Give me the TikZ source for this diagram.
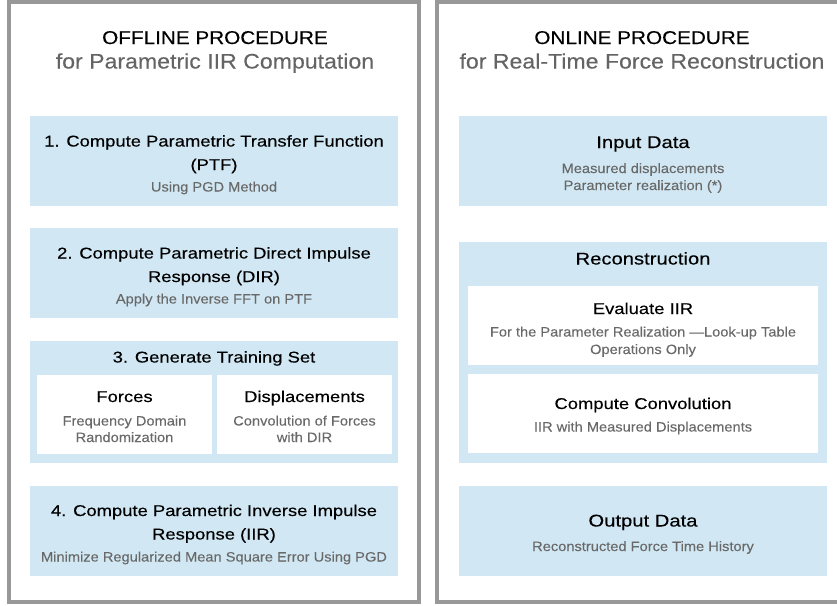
\documentclass[tikz,border=0pt]{standalone}
\usepackage{fontspec}
\setmainfont{Liberation Sans}
\newfontfamily\fttl[FakeStretch=1.12,FakeBold=0.3]{Liberation Sans}
\newfontfamily\fsub[FakeStretch=1.10,FakeBold=0.2]{Liberation Sans}
\newfontfamily\fhead[FakeStretch=1.18,FakeBold=0.3]{Liberation Sans}
\newfontfamily\fsec[FakeStretch=1.19,FakeBold=0.3]{Liberation Sans}
\newfontfamily\fsm[FakeStretch=1.085,FakeBold=0.15]{Liberation Sans}
\definecolor{frame}{RGB}{152,152,152}
\definecolor{boxblue}{RGB}{209,232,244}
\definecolor{subgray}{RGB}{105,105,105}
\definecolor{titlegray}{RGB}{100,100,100}
\tikzset{
  framebox/.style={draw=frame, line width=4pt},
  bluebox/.style={fill=boxblue, draw=none},
  whitebox/.style={fill=white, draw=none},
  txt/.style={anchor=base, inner sep=0pt},
  ttl/.style={txt, font=\fttl\fontsize{18.5}{22}\selectfont, text=black},
  sttl/.style={txt, font=\fsub\fontsize{21}{25}\selectfont, text=titlegray},
  head/.style={txt, font=\fhead\fontsize{15.6}{19}\selectfont, text=black},
  sec/.style={txt, font=\fsec\fontsize{17}{21}\selectfont, text=black},
  sm/.style={txt, font=\fsm\fontsize{13.5}{16}\selectfont, text=subgray},
}
\begin{document}
\begin{tikzpicture}[x=1pt,y=-1pt]
\useasboundingbox (0,0) rectangle (837,605);
% frames
\draw[framebox] (9,2) rectangle (419,601.5);
\draw[framebox] (437,2) rectangle (845,601.5);
% ---------- left ----------
\node[ttl]  (lt)  at (215,44)   {OFFLINE PROCEDURE};
\node[sttl] (lst) at (215,68.5) {for Parametric IIR Computation};

\fill[bluebox] (30,116) rectangle (398,206);
\node[head] (b1a) at (214,146.5) {1. Compute Parametric Transfer Function};
\node[head] (b1b) at (214,170)   {(PTF)};
\node[sm]   (b1c) at (214,191.5) {Using PGD Method};

\fill[bluebox] (30,228) rectangle (398,318);
\node[head] (b2a) at (214,258.5) {2. Compute Parametric Direct Impulse};
\node[head] (b2b) at (214,282)   {Response (DIR)};
\node[sm]   (b2c) at (214,303.5) {Apply the Inverse FFT on PTF};

\fill[bluebox] (30,341) rectangle (398,463);
\node[head] (b3a) at (214,362.5) {3. Generate Training Set};
\fill[whitebox] (37,375) rectangle (212,454);
\fill[whitebox] (217,375) rectangle (392,454);
\node[head] (fa) at (124.5,402)  {Forces};
\node[sm]   (fb) at (124.5,425.5){Frequency Domain};
\node[sm]   (fc) at (124.5,442)  {Randomization};
\node[head] (da) at (304.5,402)  {Displacements};
\node[sm]   (db) at (304.5,425.5){Convolution of Forces};
\node[sm]   (dc) at (304.5,442)  {with DIR};

\fill[bluebox] (30,486) rectangle (398,576);
\node[head] (b4a) at (214,516)   {4. Compute Parametric Inverse Impulse};
\node[head] (b4b) at (214,539.5) {Response (IIR)};
\node[sm]   (b4c) at (214,561.5) {Minimize Regularized Mean Square Error Using PGD};
% ---------- right ----------
\node[ttl]  (rt)  at (642,44)   {ONLINE PROCEDURE};
\node[sttl] (rst) at (642,68.5) {for Real-Time Force Reconstruction};

\fill[bluebox] (459,116) rectangle (827,206);
\node[sec] (ia) at (643,148) {Input Data};
\node[sm]  (ib) at (643,173) {Measured displacements};
\node[sm]  (ic) at (643,190) {Parameter realization (*)};

\fill[bluebox] (459,242) rectangle (827,463);
\node[sec] (ra) at (643,264.5) {Reconstruction};
\fill[whitebox] (468,286) rectangle (818,365);
\node[head] (ea) at (643,314)   {Evaluate IIR};
\node[sm]   (eb) at (643,336.5) {For the Parameter Realization —Look-up Table};
\node[sm]   (ec) at (643,354)   {Operations Only};
\fill[whitebox] (468,374) rectangle (818,453);
\node[head] (ca) at (643,409)   {Compute Convolution};
\node[sm]   (cb) at (643,431.5) {IIR with Measured Displacements};

\fill[bluebox] (459,486) rectangle (827,576);
\node[sec] (oa) at (643,526.5) {Output Data};
\node[sm]  (ob) at (643,551)   {Reconstructed Force Time History};
\end{tikzpicture}
\end{document}
